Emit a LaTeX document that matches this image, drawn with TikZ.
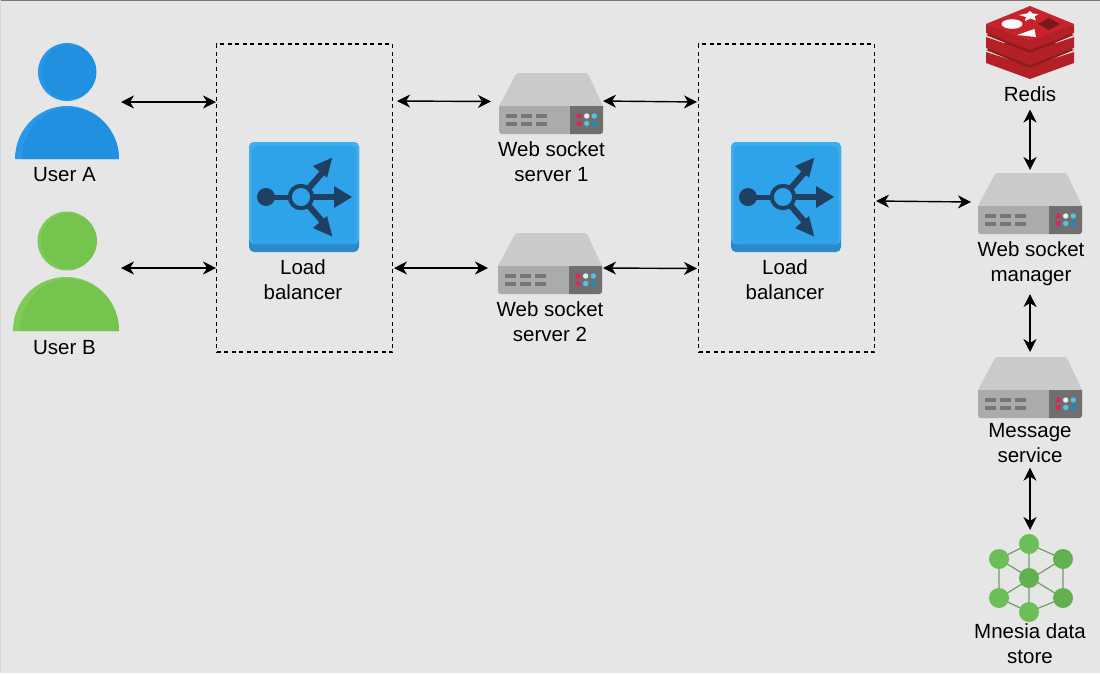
\documentclass[tikz,border=0pt]{standalone}
\usepackage{fontspec}
\setmainfont{Liberation Sans}
\usetikzlibrary{arrows.meta}
\definecolor{bgc}{HTML}{E6E6E6}
\definecolor{frameTop}{HTML}{777777}
\definecolor{frameLeft}{HTML}{DADADA}
\definecolor{srvtop}{HTML}{CACACA}
\definecolor{srvfront}{HTML}{ABABAB}
\definecolor{srvslot}{HTML}{767676}
\definecolor{srvpanel}{HTML}{6F6F6F}
\definecolor{ledRed}{HTML}{E0245E}
\definecolor{ledCyan}{HTML}{4FC3E8}
\definecolor{ledBlue}{HTML}{1E88C8}
\definecolor{ledWhite}{HTML}{ECECEC}
\definecolor{lbmain}{HTML}{2FA3E9}
\definecolor{lbdark}{HTML}{2A8ACB}
\definecolor{lblight}{HTML}{3BAEEE}
\definecolor{lbink}{HTML}{1F3F63}
\definecolor{redmain}{HTML}{C8232C}
\definecolor{redside}{HTML}{B32026}
\definecolor{redgap}{HTML}{8E1B1E}
\definecolor{redink}{HTML}{7A191C}
\definecolor{grnA}{HTML}{6CBF58}
\definecolor{grnB}{HTML}{62B04F}
\definecolor{grnLine}{HTML}{6F9F62}
\definecolor{usrBlue}{HTML}{2A97E8}
\definecolor{usrBlueD}{HTML}{2190E1}
\definecolor{usrGreen}{HTML}{7FCB57}
\definecolor{usrGreenD}{HTML}{75C44E}
\tikzset{
  iconbox/.style={inner sep=0pt,outer sep=0pt,anchor=north west},
  lbl/.style={inner sep=0pt,outer sep=0pt,align=center,text=black,font=\fontsize{20.5}{25}\selectfont},
  conn/.style={draw=black,line width=1.4pt,{Stealth[length=13pt,width=13pt,inset=4pt]}-{Stealth[length=13pt,width=13pt,inset=4pt]}},
  dashbox/.style={draw=black,line width=1.3pt,dash pattern=on 4pt off 3.5pt,inner sep=0pt,outer sep=0pt,anchor=north west}
}
\newcommand{\srvicon}[3]{%
  \node[iconbox,minimum width=104pt,minimum height=61pt] (#3) at (#1,#2) {};
  \begin{scope}[shift={(#1,#2)}]
    \fill[srvtop] (0,33) -- (16,3) .. controls (17,1) and (18,0) .. (20,0) -- (86,0) .. controls (88,0) and (89,1) .. (90,3) -- (104,33) -- cycle;
    \fill[srvfront] (0,33) -- (72,33) -- (72,61) -- (3,61) .. controls (1,61) and (0,60) .. (0,58) -- cycle;
    \fill[srvpanel] (71,33) -- (104,33) -- (104,58) .. controls (104,60) and (103,61) .. (101,61) -- (71,61) -- cycle;
    \foreach \sx in {7,22,37}{
      \fill[srvslot] (\sx,41) rectangle ++(11,4.2);
      \fill[srvslot] (\sx,48.6) rectangle ++(11,4.2);
    }
    \fill[ledRed] (80,43) circle[radius=2.7];
    \fill[ledWhite] (87.7,43) circle[radius=2.7];
    \fill[ledCyan] (95.3,43) circle[radius=2.7];
    \fill[ledRed] (80,50.5) circle[radius=2.7];
    \fill[ledCyan] (87.7,50.5) circle[radius=2.7];
    \fill[ledBlue] (95.3,50.5) circle[radius=2.7];
  \end{scope}}
\newcommand{\lbicon}[3]{%
  \node[iconbox,minimum width=110pt,minimum height=110pt] (#3) at (#1,#2) {};
  \begin{scope}[shift={(#1,#2)}]
    \fill[lbdark,rounded corners=5pt] (0,0) rectangle (110,110);
    \fill[lblight,rounded corners=5pt] (0,0) rectangle (110,102);
    \fill[lbmain,rounded corners=4pt] (3,4) rectangle (107,102);
    \draw[lbink,line width=5pt] (17,55) -- (40,55);
    \fill[lbink] (17,55) circle[radius=9];
    \draw[lbink,line width=5.5pt] (63,55) -- (87,55);
    \fill[lbink] (85,44) -- (103,55) -- (85,66) -- cycle;
    \draw[lbink,line width=6pt] (60,46) -- (73,31);
    \fill[lbink] (64,24) -- (83.3,15.7) -- (78,35.7) -- cycle;
    \draw[lbink,line width=6pt] (60,64) -- (73,79);
    \fill[lbink] (64,86) -- (83.3,94.5) -- (78,74) -- cycle;
    \draw[lbink,line width=4pt,fill=lbmain] (52,55) circle[radius=11.2];
  \end{scope}}
\begin{document}
\begin{tikzpicture}[x=1pt,y=-1pt]
\useasboundingbox (0,0) rectangle (1100,673);
\fill[bgc] (0,0) rectangle (1100,673);
\fill[frameTop] (0,0) rectangle (1100,1);
\fill[frameLeft] (0,0) rectangle (1,673);

% dashed containers
\node[dashbox,minimum width=176pt,minimum height=308pt] (boxL) at (216.5,44) {};
\node[dashbox,minimum width=176pt,minimum height=308pt] (boxR) at (698.5,44) {};

% user A
\node[iconbox,minimum width=106pt,minimum height=116pt] (userA) at (14,43) {};
\fill[usrBlue] (67,72) circle[radius=29];
\fill[usrBlueD] (69,72) circle[radius=27.5];
\fill[usrBlue] (15,159) .. controls (15,130) and (38,106) .. (67,106) .. controls (96,106) and (119,130) .. (119,159) -- cycle;
\fill[usrBlueD] (22,159) .. controls (22,132) and (42,108) .. (69,108) .. controls (96,108) and (119,130) .. (119,159) -- cycle;
\node[lbl] (labelUserA) at (64.5,175) {User A};

% user B
\node[iconbox,minimum width=107pt,minimum height=120pt] (userB) at (13,212) {};
\fill[usrGreen] (67,241) circle[radius=29.5];
\fill[usrGreenD] (69,241) circle[radius=28];
\fill[usrGreen] (13,331) .. controls (13,301) and (36,277) .. (66,277) .. controls (96,277) and (119,301) .. (119,331) -- cycle;
\fill[usrGreenD] (20,331) .. controls (20,303) and (41,279) .. (68,279) .. controls (96,279) and (119,301) .. (119,331) -- cycle;
\node[lbl] (labelUserB) at (64.5,348) {User B};

% load balancers
\lbicon{249}{142}{lbA}
\node[lbl] (labelLbA) at (303,280) {Load\\balancer};
\lbicon{731}{142}{lbB}
\node[lbl] (labelLbB) at (785,280) {Load\\balancer};

% servers
\srvicon{499}{73}{ws1}
\node[lbl] (labelWs1) at (551.5,161.5) {Web socket\\server 1};
\srvicon{498}{233}{ws2}
\node[lbl] (labelWs2) at (550,321.5) {Web socket\\server 2};
\srvicon{978}{173}{wsm}
\node[lbl] (labelWsm) at (1031,264) {Web socket\\manager};
\srvicon{978}{357}{msg}
\node[lbl] (labelMsg) at (1030,443.5) {Message\\service};

% redis
\node[iconbox,minimum width=88pt,minimum height=74pt] (redis) at (986,6) {};
\fill[redside] (986,52) -- (986,63) -- (1030,79) -- (1074,63) -- (1074,52) -- (1030,66) -- cycle;
\fill[redgap] (986,50) -- (1030,34) -- (1074,50) -- (1030,68) -- cycle;
\fill[redside] (986,37) -- (986,48) -- (1030,65) -- (1074,48) -- (1074,37) -- (1030,52) -- cycle;
\fill[redgap] (986,35) -- (1030,20) -- (1074,35) -- (1030,53) -- cycle;
\fill[redside] (986,24) -- (986,33) -- (1030,50) -- (1074,33) -- (1074,24) -- (1030,40) -- cycle;
\fill[redmain] (986,24) -- (1030,6) -- (1074,24) -- (1030,41) -- cycle;
\fill[white] (1012,24) ellipse[x radius=10.5,y radius=4.8];
\fill[white] (1030,11) -- (1032.5,13.5) -- (1038.5,14) -- (1034.5,16.5) -- (1036,20.5) -- (1030.5,18.5) -- (1025,21) -- (1026,17) -- (1019,15) -- (1027,13.5) -- cycle;
\fill[white] (1017,35) -- (1034.5,29) -- (1036,37) -- cycle;
\fill[redink] (1049,18) -- (1060,24) -- (1049,30) -- (1038,24) -- cycle;
\node[lbl] (labelRedis) at (1030,94) {Redis};

% mnesia
\node[iconbox,minimum width=84pt,minimum height=88pt] (mnesia) at (989,534) {};
\draw[grnLine,line width=1.2pt] (1029,544) -- (999,559) -- (999,598) -- (1029,612) -- (1063,598) -- (1063,559) -- cycle;
\draw[grnLine,line width=1.2pt] (1029,544) -- (1029,612) (999,559) -- (1063,598) (1063,559) -- (999,598);
\fill[grnA] (1029,544) circle[radius=10];
\fill[grnA] (999,559) circle[radius=10];
\fill[grnB] (1063,559) circle[radius=10];
\fill[grnB] (1029,578) circle[radius=10];
\fill[grnA] (999,598) circle[radius=10];
\fill[grnB] (1063,598) circle[radius=10];
\fill[grnA] (1029,612) circle[radius=10];
\node[lbl] (labelMnesia) at (1030,644) {Mnesia data\\store};

% connectors
\draw[conn] ([xshift=1pt,yshift=-1pt]userA.east) -- ([xshift=-0.5pt,yshift=-1pt]userA.east -| boxL.west);
\draw[conn] ([xshift=1pt,yshift=4pt]userB.east) -- ([xshift=-0.5pt,yshift=4pt]userB.east -| boxL.west);
\draw[conn] ([xshift=4.5pt,yshift=97pt]boxL.east) -- ([xshift=-8pt,yshift=2pt]ws1.west);
\draw[conn] ([yshift=2.5pt]ws1.east) -- ([xshift=-1.5pt,yshift=96pt]boxR.west);
\draw[conn] ([xshift=1.5pt,yshift=-70pt]boxL.east) -- ([xshift=-10pt,yshift=-4.5pt]ws2.west);
\draw[conn] ([xshift=1pt,yshift=-4.5pt]ws2.east) -- ([xshift=-1.5pt,yshift=-70.5pt]boxR.west);
\draw[conn] ([xshift=1.5pt,yshift=-3pt]boxR.east) -- ([xshift=-7pt,yshift=1.5pt]wsm.west);
\draw[conn] ([yshift=-8pt]labelRedis.south) -- ([yshift=3pt]wsm.north);
\draw[conn] ([xshift=-1pt,yshift=-8pt]labelWsm.south) -- ([yshift=5pt]msg.north);
\draw[conn] ([yshift=-4.5pt]labelMsg.south) -- ([xshift=-1pt,yshift=4pt]mnesia.north);
\end{tikzpicture}
\end{document}
